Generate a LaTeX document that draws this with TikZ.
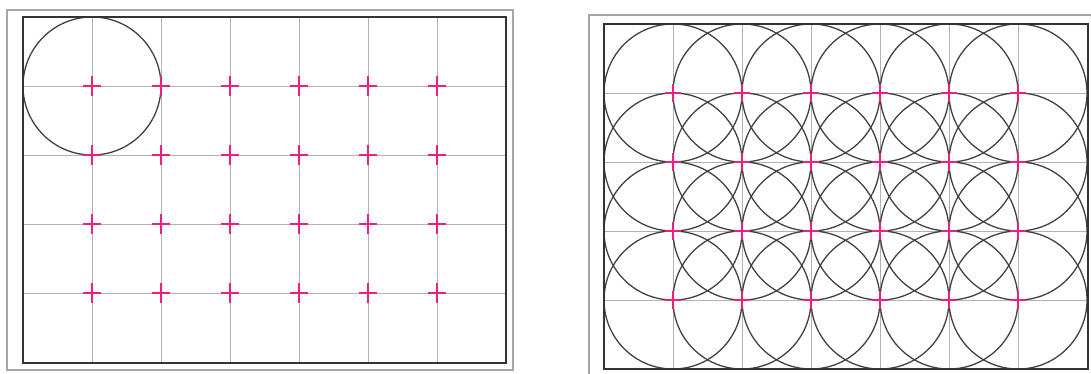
\documentclass[tikz,border=0pt]{standalone}
\begin{document}
\begin{tikzpicture}[x=1pt,y=-1pt,
  outerframe/.style={draw=black!35,line width=1.6pt},
  innerframe/.style={draw=black!80,line width=2.2pt},
  gridline/.style={draw=black!30,line width=1pt},
  ring/.style={draw=black!75,line width=1.3pt},
  tick/.style={draw=magenta!80!red!90!white,line width=2pt}]
\useasboundingbox (0,0) rectangle (1091,373);
% ---------- left panel ----------
\draw[outerframe] (7,10) rectangle (513,370);
\foreach \i in {1,...,6}{
  \draw[gridline] ({23+69*\i},17) -- ({23+69*\i},363);}
\foreach \j in {1,...,4}{
  \draw[gridline] (23,{17+69*\j}) -- (506,{17+69*\j});}
\draw[ring] (92,86) circle[radius=69];
\foreach \i in {1,...,6}{
  \foreach \j in {1,...,4}{
    \path ({23+69*\i},{17+69*\j}) coordinate (lc);
    \draw[tick] ([xshift=-9pt]lc) -- ([xshift=9pt]lc);
    \draw[tick] ([yshift=-10pt]lc) -- ([yshift=10pt]lc);
  }}
\draw[innerframe] (23,17) rectangle (506,363);
% ---------- right panel ----------
\draw[outerframe] (589,15) rectangle (1100,380);
\foreach \i in {1,...,6}{
  \draw[gridline] ({604+69*\i},24) -- ({604+69*\i},369);}
\foreach \j in {1,...,4}{
  \draw[gridline] (604,{24+69*\j}) -- (1088,{24+69*\j});}
\begin{scope}
  \clip (604,24) rectangle (1088,369);
  \foreach \i in {1,...,6}{
    \foreach \j in {1,...,4}{
      \draw[ring] ({604+69*\i},{24+69*\j}) circle[radius=69];
    }}
\end{scope}
\foreach \i in {1,...,6}{
  \foreach \j in {1,...,4}{
    \path ({604+69*\i},{24+69*\j}) coordinate (rc);
    \draw[tick] ([xshift=-8pt]rc) -- ([xshift=8pt]rc);
    \draw[tick] ([yshift=-9pt]rc) -- ([yshift=9pt]rc);
  }}
\draw[innerframe] (604,24) rectangle (1088,369);
\end{tikzpicture}
\end{document}
